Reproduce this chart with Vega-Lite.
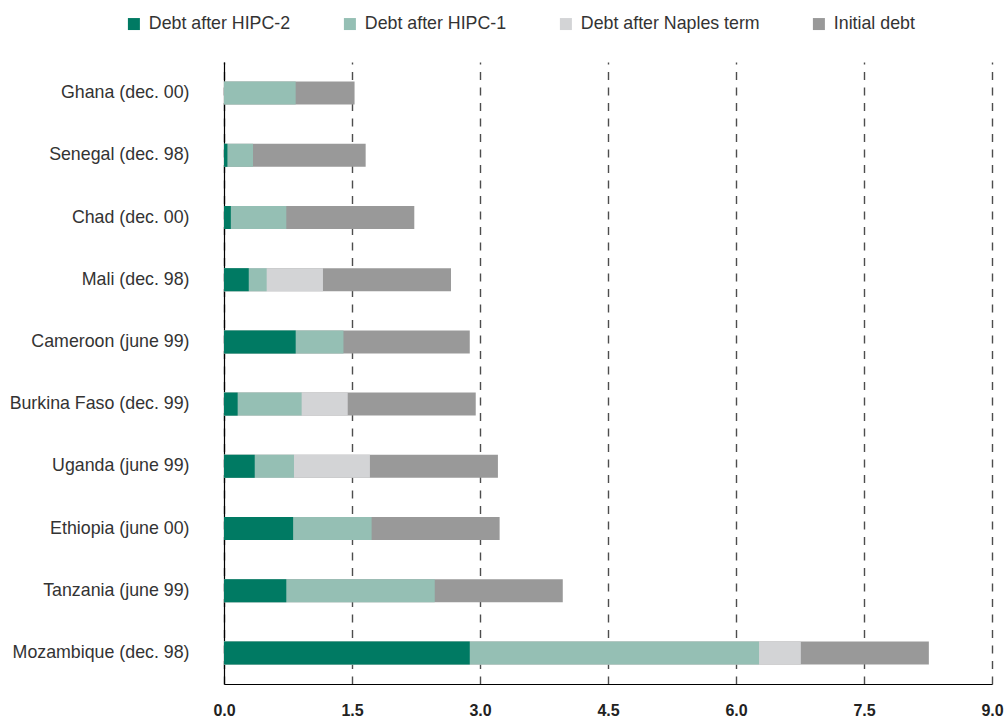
{
  "$schema": "https://vega.github.io/schema/vega-lite/v6.json",
  "width": 768,
  "height": 622,
  "autosize": {"type": "none"},
  "padding": {"left": 224, "top": 62, "right": 12, "bottom": 33},
  "background": "white",
  "config": {
    "view": {"stroke": null},
    "font": "Liberation Sans"
  },
  "data": {
    "values": [
      {"country": "Ghana (dec. 00)", "measure": "Initial debt", "value": 1.53},
      {"country": "Ghana (dec. 00)", "measure": "Debt after HIPC-1", "value": 0.84},
      {"country": "Senegal (dec. 98)", "measure": "Initial debt", "value": 1.66},
      {"country": "Senegal (dec. 98)", "measure": "Debt after HIPC-1", "value": 0.34},
      {"country": "Senegal (dec. 98)", "measure": "Debt after HIPC-2", "value": 0.04},
      {"country": "Chad (dec. 00)", "measure": "Initial debt", "value": 2.23},
      {"country": "Chad (dec. 00)", "measure": "Debt after HIPC-1", "value": 0.73},
      {"country": "Chad (dec. 00)", "measure": "Debt after HIPC-2", "value": 0.08},
      {"country": "Mali (dec. 98)", "measure": "Initial debt", "value": 2.66},
      {"country": "Mali (dec. 98)", "measure": "Debt after Naples term", "value": 1.16},
      {"country": "Mali (dec. 98)", "measure": "Debt after HIPC-1", "value": 0.5},
      {"country": "Mali (dec. 98)", "measure": "Debt after HIPC-2", "value": 0.29},
      {"country": "Cameroon (june 99)", "measure": "Initial debt", "value": 2.88},
      {"country": "Cameroon (june 99)", "measure": "Debt after HIPC-1", "value": 1.4},
      {"country": "Cameroon (june 99)", "measure": "Debt after HIPC-2", "value": 0.84},
      {"country": "Burkina Faso (dec. 99)", "measure": "Initial debt", "value": 2.95},
      {"country": "Burkina Faso (dec. 99)", "measure": "Debt after Naples term", "value": 1.45},
      {"country": "Burkina Faso (dec. 99)", "measure": "Debt after HIPC-1", "value": 0.91},
      {"country": "Burkina Faso (dec. 99)", "measure": "Debt after HIPC-2", "value": 0.16},
      {"country": "Uganda (june 99)", "measure": "Initial debt", "value": 3.21},
      {"country": "Uganda (june 99)", "measure": "Debt after Naples term", "value": 1.71},
      {"country": "Uganda (june 99)", "measure": "Debt after HIPC-1", "value": 0.82},
      {"country": "Uganda (june 99)", "measure": "Debt after HIPC-2", "value": 0.36},
      {"country": "Ethiopia (june 00)", "measure": "Initial debt", "value": 3.23},
      {"country": "Ethiopia (june 00)", "measure": "Debt after HIPC-1", "value": 1.73},
      {"country": "Ethiopia (june 00)", "measure": "Debt after HIPC-2", "value": 0.81},
      {"country": "Tanzania (june 99)", "measure": "Initial debt", "value": 3.97},
      {"country": "Tanzania (june 99)", "measure": "Debt after HIPC-1", "value": 2.47},
      {"country": "Tanzania (june 99)", "measure": "Debt after HIPC-2", "value": 0.73},
      {"country": "Mozambique (dec. 98)", "measure": "Initial debt", "value": 8.26},
      {"country": "Mozambique (dec. 98)", "measure": "Debt after Naples term", "value": 6.76},
      {"country": "Mozambique (dec. 98)", "measure": "Debt after HIPC-1", "value": 6.27},
      {"country": "Mozambique (dec. 98)", "measure": "Debt after HIPC-2", "value": 2.88}
    ]
  },
  "mark": {"type": "bar", "cornerRadius": 0},
  "encoding": {
    "y": {
      "field": "country",
      "type": "nominal",
      "sort": ["Ghana (dec. 00)", "Senegal (dec. 98)", "Chad (dec. 00)", "Mali (dec. 98)", "Cameroon (june 99)", "Burkina Faso (dec. 99)", "Uganda (june 99)", "Ethiopia (june 00)", "Tanzania (june 99)", "Mozambique (dec. 98)"],
      "scale": {"paddingInner": 0.63, "paddingOuter": 0.315},
      "axis": {
        "title": null,
        "domain": true,
        "domainColor": "#000000",
        "domainWidth": 1.2,
        "ticks": false,
        "labelPadding": 35,
        "labelFontSize": 17.8,
        "labelColor": "#333333",
        "labelFont": "Liberation Sans",
        "labelLimit": 0
      }
    },
    "x": {
      "field": "value",
      "type": "quantitative",
      "stack": null,
      "scale": {"domain": [0, 9], "nice": false},
      "axis": {
        "title": null,
        "values": [0, 1.5, 3, 4.5, 6, 7.5, 9],
        "format": ".1f",
        "domain": true,
        "domainColor": "#000000",
        "domainWidth": 1.2,
        "ticks": false,
        "labelFlush": false,
        "labelPadding": 18,
        "labelFontSize": 16,
        "labelFontWeight": "bold",
        "labelColor": "#222222",
        "labelFont": "Liberation Sans",
        "grid": true,
        "gridColor": "#4d4d4d",
        "gridWidth": 1.4,
        "gridDash": [8, 7.5]
      }
    },
    "color": {
      "field": "measure",
      "type": "nominal",
      "scale": {
        "domain": ["Debt after HIPC-2", "Debt after HIPC-1", "Debt after Naples term", "Initial debt"],
        "range": ["#007a63", "#95bfb4", "#d3d4d6", "#999999"]
      },
      "legend": {
        "title": null,
        "orient": "none",
        "direction": "horizontal",
        "legendX": -99,
        "legendY": -47,
        "symbolType": "square",
        "symbolSize": 144,
        "symbolStrokeWidth": 0,
        "symbolOpacity": 1,
        "labelFontSize": 17.8,
        "labelColor": "#333333",
        "labelFont": "Liberation Sans",
        "labelOffset": 6,
        "labelLimit": 0,
        "columnPadding": 50
      }
    }
  }
}
